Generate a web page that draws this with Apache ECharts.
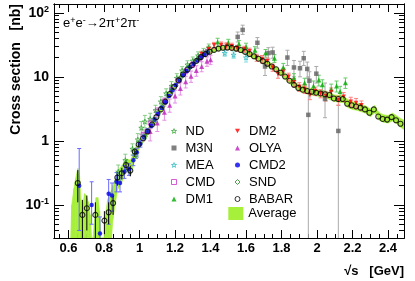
<!DOCTYPE html>
<html><head><meta charset="utf-8">
<script src="https://cdn.jsdelivr.net/npm/echarts@6/dist/echarts.min.js"></script>
<style>html,body{margin:0;padding:0;background:#fff;}#c{width:415px;height:281px;}</style>
</head><body><div id="c"></div>
<script>
// ---------------- data ----------------
const xMajorTicks = [0.6, 0.8, 1, 1.2, 1.4, 1.6, 1.8, 2, 2.2, 2.4];
const yMajorTicks = [0.1, 1, 10, 100];
// rows: [E (GeV), sigma (nb), low, high]
const babar = [
  [0.652,0.22,0.11,0.35],[0.678,0.07,0.03,0.12],[0.703,0.089,0.04,0.14],[0.751,0.07,0.03,0.11],
  [0.802,0.057,0.035,0.08],[0.826,0.077,0.05,0.11],[0.851,0.107,0.07,0.14],[0.875,0.268,0.2,0.33],
  [0.9,0.313,0.25,0.38],[0.924,0.42,0.35,0.5],[0.948,0.344,0.28,0.41],[0.973,0.68,0.56,0.72],
  [0.995,0.88,0.8,0.95],[1.02,1.1],[1.045,1.4],[1.07,1.8],[1.095,2.35],[1.12,3.1],[1.145,4.1],
  [1.17,5.4],[1.195,7.0],[1.22,8.8],[1.245,10.9],[1.27,13.0],[1.295,15.2],[1.32,17.7],[1.345,20.3],
  [1.37,22.6],[1.395,24.6],[1.42,26.3],[1.445,27.6],[1.47,28.4],[1.495,28.6],[1.52,28.3],[1.545,27.6],
  [1.57,26.2],[1.595,24.5],[1.62,22.7],[1.645,20.9],[1.67,19.2],[1.695,17.6],[1.72,16.0],[1.745,14.5],
  [1.77,13.1],[1.795,11.6],[1.82,10.1],[1.845,8.7],[1.87,7.5],[1.895,6.7],[1.92,6.3],[1.945,6.0],
  [1.97,5.85],[1.995,5.65],[2.02,5.5],[2.045,5.35],[2.07,5.2],[2.095,4.6],[2.12,4.5],[2.145,4.5],
  [2.17,3.8],[2.195,3.6],[2.22,3.45],[2.245,3.3],[2.27,3.1],[2.295,2.75],[2.32,3.1],[2.345,2.4],
  [2.37,2.2],[2.395,2.15],[2.42,2.35],[2.445,2.1],[2.47,1.85]
];
const nd = [
  [0.88,0.33,0.25,0.42],[0.92,0.5,0.4,0.62],[0.96,0.75,0.6,0.9],[0.99,1.05,0.85,1.3],[1.01,1.6,1.25,2.0],
  [1.03,2.0,1.6,2.5],[1.06,2.2,1.8,2.7],[1.09,3.0,2.5,3.6],[1.12,4.1,3.4,4.9],[1.15,5.5,4.6,6.5],
  [1.18,7.2,6.1,8.4],[1.21,9.6,8.2,11.2],[1.24,12.5,10.8,14.4],[1.27,15.5,13.4,17.8],[1.30,17.8,15.4,20.4],
  [1.33,21.5,18.7,24.5],[1.36,24.5,21.5,27.8],[1.39,28.5,25,32.5]
];
const m3n = [
  [1.553,42,35,50],[1.581,54,46,64],[1.664,34,28,41],[1.707,14.5,10.5,19],[1.726,23.5,19,28.5],
  [1.75,24,19.5,29],[1.833,20,15,26],[1.87,14,10,18],[1.904,13.6,10,17.5],[1.925,19.5,15,25],
  [1.945,13.3,9.5,17],[1.951,2.55,0.01,10],[1.957,8.7,5.5,12],[1.996,11.2,8,14.5],[2.045,4.5,2.3,8],
  [2.12,1.43,0.01,3.6]
];
const mea = [[1.48,23.5,21,26],[1.53,22,19.5,24.5],[1.60,20,17,23]];
const cmd = [
  [1.02,1.25,1.0,1.5],[1.06,1.9,1.6,2.2],[1.10,2.9,2.5,3.3],[1.14,4.2,3.7,4.7],[1.18,6.3,5.6,7.0],
  [1.22,8.9,8.0,9.8],[1.26,12.2,11,13.4],[1.30,15.6,14,17.2],[1.34,19.5,17.5,21.5],[1.38,24.5,22,27]
];
const dm1 = [
  [1.44,35,30,40],[1.5,34,29.5,38.5],[1.56,32.5,28,37],[1.60,29.5,25.5,33.5],[1.65,26,22.5,29.5],
  [1.71,23.5,20.3,26.7],[1.76,19.5,16.8,22.2],[1.81,14,11.8,16.2],[1.87,9.5,7.8,11.2],[1.93,8.0,6.5,9.5],
  [1.98,7.2,5.8,8.6],[2.01,8.9,7.2,10.6],[2.03,7.5,6,9],[2.08,6.4,5.1,7.7],[2.11,7.2,5.8,8.6],
  [2.13,5.9,4.7,7.1],[2.16,8.1,6.6,9.6]
];
const dm2 = [
  [1.35,22.5,20,25],[1.39,27,24,30],[1.42,31,27.5,34.5],[1.46,31.5,28,35],[1.49,30.5,27,34],
  [1.52,30,26.5,33.5],[1.55,28,25,31],[1.59,27,24,30],[1.62,25,22,28],[1.66,20,17.5,22.5],
  [1.69,19,16.5,21.5],[1.72,17.5,15.3,19.7],[1.75,14,12.2,15.8],[1.78,11,9.5,12.5],[1.81,12,10.4,13.6],
  [1.84,10,8.6,11.4],[1.87,8.2,7,9.4],[1.90,7,5.9,8.1],[1.93,6.5,5.5,7.5],[1.96,5.2,4.4,6],
  [1.99,6,5.1,6.9],[2.02,5.5,4.7,6.3],[2.05,5.0,4.2,5.8],[2.08,5.8,4.9,6.7],[2.12,4.3,3.6,5],
  [2.15,4.9,4.1,5.7],[2.19,4.1,3.4,4.8],[2.22,3.9,3.2,4.6],[2.25,3.6,3.0,4.2]
];
const olya = [
  [1.06,1.4,1.0,1.8],[1.10,1.9,1.4,2.4],[1.14,2.8,2.1,3.5],[1.17,3.6,2.8,4.5],[1.20,5.0,3.9,6.2],
  [1.23,6.6,5.2,8.1],[1.26,8.4,6.7,10.2],[1.29,10.2,8.2,12.3],[1.32,12.5,10.2,14.9],[1.35,14.5,12,17.2],
  [1.38,17.5,14.6,20.5],[1.40,18.5,15.5,21.7]
];
const cmd2 = [
  [0.66,0.2,0.04,0.76],[0.73,0.1,0.05,0.23],[0.777,0.036,0.015,0.065],[0.826,0.15,0.05,0.25],
  [0.845,0.14,0.08,0.22],[0.87,0.23,0.16,0.32],[0.89,0.22,0.16,0.29],[0.915,0.33,0.26,0.41],
  [0.94,0.36,0.29,0.44],[0.965,0.5,0.41,0.6],[0.985,0.66,0.56,0.77],[1.005,0.9,0.8,1.01],
  [1.025,1.15,1.04,1.27],[1.045,1.42,1.3,1.55],[1.065,1.72,1.6,1.85],[1.085,2.15,2.0,2.3],
  [1.105,2.65,2.5,2.8],[1.125,3.3,3.1,3.5],[1.145,4.0,3.8,4.25],[1.165,5.0,4.75,5.3],[1.185,6.2,5.9,6.5],
  [1.205,7.4,7.05,7.8],[1.225,8.9,8.5,9.3],[1.245,10.6,10.1,11.1],[1.265,12.3,11.7,12.9],
  [1.285,14.2,13.5,14.9],[1.305,16.0,15.2,16.8],[1.325,18.0,17.1,18.9],[1.345,20.0,19,21],
  [1.365,22.2,21.1,23.3],[1.385,24.0,22.8,25.2]
];
const snd = [
  [0.98,0.6,0.53,0.67],[1.03,1.18,1.08,1.28],[1.08,1.95,1.8,2.1],[1.13,3.4,3.15,3.65],[1.18,6.0,5.6,6.4],
  [1.23,9.6,9.0,10.2],[1.28,14.2,13.3,15.1],[1.33,19.2,18,20.4],[1.38,24.5,23,26]
];
// average band: energies, lower and upper edges
const avgE  = [0.612,0.618,0.63,0.64,0.652,0.662,0.67,0.675,0.68,0.69,0.70,0.712,0.722,0.73,0.738,0.745,0.755,0.765,0.775,0.782,0.80,0.808,0.82,0.832,0.842,
  0.85,0.875,0.9,0.925,0.95,0.975,1.0,1.05,1.1,1.15,1.2,1.25,1.3,1.35,1.4,1.45,1.5,1.55,1.6,1.65,1.7,1.75,1.8,1.85,1.9,1.95,2.0,2.05,
  2.1,2.125,2.15,2.175,2.2,2.225,2.25,2.275,2.3,2.325,2.35,2.375,2.4,2.425,2.45,2.475,2.49];
const avgHi = [0.01,0.1,0.18,0.26,0.37,0.28,0.12,0.06,0.1,0.15,0.14,0.11,0.07,0.03,0.01,0.05,0.13,0.13,0.08,0.01,0.01,0.07,0.12,0.15,0.17,
  0.2,0.33,0.41,0.52,0.5,0.77,1.02,1.62,2.75,4.9,8.2,12.4,17.1,22.6,27.2,30.0,30.5,29.2,26.0,22.4,18.7,15.7,12.4,9.4,7.4,6.7,6.3,6.0,
  5.2,5.15,5.1,4.35,4.1,3.9,3.7,3.5,3.15,3.55,2.75,2.55,2.5,2.7,2.45,2.2,2.1];
const avgLo = [0.01,0.01,0.01,0.01,0.01,0.01,0.01,0.01,0.01,0.01,0.01,0.01,0.01,0.01,0.01,0.01,0.01,0.01,0.01,0.01,0.01,0.01,0.01,0.01,0.01,
  0.06,0.17,0.23,0.33,0.29,0.54,0.76,1.28,2.15,3.85,6.8,10.5,14.6,19.4,23.4,26.2,26.8,25.4,22.3,18.8,15.8,13.1,10.3,7.7,5.9,5.3,5.0,4.7,
  4.1,4.0,3.95,3.3,3.1,3.0,2.85,2.7,2.4,2.75,2.1,1.95,1.9,2.05,1.85,1.6,1.5];

// ---------------- chart ----------------
const X_MIN = 0.518, X_MAX = 2.49, Y_MIN = 0.0305, Y_MAX = 137;
const FONT = '"Liberation Sans", Arial, Helvetica, sans-serif';
const AVG = '#a6ef3a';
const STAR = 'path://M50,0 L61,35 L98,35 L68,57 L79,91 L50,70 L21,91 L32,57 L2,35 L39,35 Z';
const DTRI = 'path://M0,0 L10,0 L5,9 Z';

const xMinor = []; for (let v = 0.55; v < X_MAX; v += 0.05) xMinor.push(+v.toFixed(2));
const yMinor = []; [0.01, 0.1, 1, 10].forEach(d => { for (let k = 2; k <= 9; k++) { const v = +(k * d).toPrecision(3); if (v > Y_MIN && v < Y_MAX) yMinor.push(v); } });

function mkX(pos, ticks, len, label) {
  return { type: 'value', position: pos, min: X_MIN, max: X_MAX, gridIndex: 0,
    axisLine: { show: true, onZero: false, lineStyle: { color: '#000', width: 1 } },
    axisTick: { show: true, inside: true, length: len, customValues: ticks, lineStyle: { color: '#000', width: 1 } },
    axisLabel: { show: label, customValues: xMajorTicks, margin: 4, color: '#000', fontFamily: FONT, fontWeight: 'bold', fontSize: 13,
      formatter: v => Math.abs(v - Math.round(v)) < 1e-9 ? String(Math.round(v)) : v.toFixed(1) },
    splitLine: { show: false } };
}
function mkY(pos, ticks, len, label) {
  return { type: 'log', logBase: 10, position: pos, min: Y_MIN, max: Y_MAX, gridIndex: 0,
    axisLine: { show: true, onZero: false, lineStyle: { color: '#000', width: 1 } },
    axisTick: { show: true, inside: true, length: len, customValues: ticks, lineStyle: { color: '#000', width: 1 } },
    axisLabel: { show: label, customValues: yMajorTicks, margin: 5, color: '#000',
      formatter: v => {
        if (Math.abs(v - 100) < 1e-6) return '{n|10}{s|2}';
        if (Math.abs(v - 10) < 1e-6) return '{n|10}';
        if (Math.abs(v - 1) < 1e-6) return '{n|1}';
        return '{n|10}{s|-1}';
      },
      rich: { n: { fontFamily: FONT, fontWeight: 'bold', fontSize: 14, color: '#000' },
              s: { fontFamily: FONT, fontWeight: 'bold', fontSize: 9, color: '#000', verticalAlign: 'top', padding: [0, 0, 6, 0] } } },
    splitLine: { show: false } };
}

function errRender(color, cap) {
  return function (params, api) {
    const lo = api.value(2), hi = api.value(3);
    if (!(lo > 0) || !(hi > 0)) return null;
    const x = api.value(0);
    const cl = v => Math.min(Math.max(v, Y_MIN), Y_MAX);
    const p1 = api.coord([x, cl(lo)]), p2 = api.coord([x, cl(hi)]);
    const st = { stroke: color, lineWidth: 1 };
    const ch = [{ type: 'line', shape: { x1: p1[0], y1: p1[1], x2: p2[0], y2: p2[1] }, style: st }];
    if (cap) {
      if (lo > Y_MIN) ch.push({ type: 'line', shape: { x1: p1[0] - cap, y1: p1[1], x2: p1[0] + cap, y2: p1[1] }, style: st });
      if (hi < Y_MAX) ch.push({ type: 'line', shape: { x1: p2[0] - cap, y1: p2[1], x2: p2[0] + cap, y2: p2[1] }, style: st });
    }
    return { type: 'group', children: ch };
  };
}
function errSeries(data, color, cap) {
  return { type: 'custom', data: data, renderItem: errRender(color, cap), encode: { x: 0, y: 1 }, silent: true, z: 3, clip: true };
}
function scat(name, data, symbol, size, color, open) {
  return { name: name, type: 'scatter', data: data, symbol: symbol, symbolSize: size, encode: { x: 0, y: 1 }, z: 4,
    itemStyle: open ? { color: 'rgba(255,255,255,0)', borderColor: color, borderWidth: 1 } : { color: color } };
}

const avgRows = avgE.map((e, i) => [e, avgLo[i], avgHi[i]]);
function bandRender(params, api) {
  const i = params.dataIndexInside;
  if (i >= params.dataInsideLength - 1) return null;
  const cl = v => Math.min(Math.max(v, Y_MIN), Y_MAX);
  const x0 = api.value(0, i), l0 = api.value(1, i), h0 = api.value(2, i);
  const x1 = api.value(0, i + 1), l1 = api.value(1, i + 1), h1 = api.value(2, i + 1);
  const pts = [api.coord([x0, cl(h0)]), api.coord([x1, cl(h1)]), api.coord([x1, cl(l1)]), api.coord([x0, cl(l0)])];
  return { type: 'polygon', shape: { points: pts }, style: { fill: AVG, stroke: AVG, lineWidth: 0.6 } };
}

const legText = { fontSize: 13, fontFamily: FONT, color: '#000', lineHeight: 14, padding: [0, 0, 0, 4] };
const openIcon = c => ({ color: 'rgba(255,255,255,0)', borderColor: c, borderWidth: 1 });
const filledIcon = c => ({ color: c, borderWidth: 0 });
const option = {
  animation: false,
  backgroundColor: '#fff',
  grid: { left: 54, right: 11, top: 4, bottom: 43, containLabel: false },
  xAxis: [ mkX('bottom', xMajorTicks, 8, true), mkX('bottom', xMinor, 4, false), mkX('top', xMajorTicks, 8, false), mkX('top', xMinor, 4, false) ],
  yAxis: [ mkY('left', yMajorTicks, 10, true), mkY('left', yMinor, 5, false), mkY('right', yMajorTicks, 10, false), mkY('right', yMinor, 5, false) ],
  legend: [
    { orient: 'vertical', left: 171, top: 124, padding: 0, itemWidth: 5, itemHeight: 5, itemGap: 3, selectedMode: false, textStyle: legText,
      data: [{ name: 'ND', icon: STAR, itemStyle: openIcon('#3aa83a') }, { name: 'M3N', icon: 'rect', itemStyle: filledIcon('#606060') },
             { name: 'MEA', icon: STAR, itemStyle: openIcon('#2ab8c0') }, { name: 'CMD', icon: 'rect', itemStyle: openIcon('#cc33cc') },
             { name: 'DM1', icon: 'triangle', itemStyle: filledIcon('#00aa00') }] },
    { orient: 'vertical', left: 234.5, top: 124, padding: 0, itemWidth: 5, itemHeight: 5, itemGap: 3, selectedMode: false, textStyle: legText,
      data: [{ name: 'DM2', icon: DTRI, itemStyle: filledIcon('#ff0000') }, { name: 'OLYA', icon: 'triangle', itemStyle: filledIcon('#bb22bb') },
             { name: 'CMD2', icon: 'circle', itemStyle: filledIcon('#0000ee') }, { name: 'SND', icon: 'diamond', itemStyle: openIcon('#228822') },
             { name: 'BABAR', icon: 'circle', itemStyle: openIcon('#000000') }] },
    { orient: 'vertical', left: 228.3, top: 207, padding: 0, itemWidth: 15, itemHeight: 13, selectedMode: false, textStyle: { fontSize: 13, fontFamily: FONT, color: '#000' },
      data: [{ name: 'Average', icon: 'rect', itemStyle: { color: AVG, borderWidth: 0 } }] }
  ],
  graphic: [
    { type: 'text', x: 16, y: 4, rotation: Math.PI / 2,
      style: { text: 'Cross section   [nb]', font: 'bold 14px ' + FONT, fill: '#000', align: 'right', verticalAlign: 'middle' } },
    { type: 'text', x: 404, y: 271,
      style: { text: '√s   [GeV]', font: 'bold 13px ' + FONT, fill: '#000', align: 'right', verticalAlign: 'middle' } },
    { type: 'text', x: 63, y: 23,
      style: { text: '{n|e}{s|+}{n|e}{s|-}{n|→2π}{s|+}{n|2π}{s|-}', verticalAlign: 'middle', align: 'left',
        rich: { n: { fontFamily: FONT, fontSize: 13, fill: '#000' }, s: { fontFamily: FONT, fontSize: 9, fill: '#000', verticalAlign: 'top', padding: [0, 0, 5, 0] } } } }
  ],
  series: [
    { name: 'Average', type: 'custom', data: avgRows, renderItem: bandRender, encode: { x: 0, y: 1 }, itemStyle: { color: AVG }, z: 1, clip: true, silent: true },
    errSeries(m3n, '#aaaaaa', 2), errSeries(nd, '#88cc88', 2), errSeries(mea, '#88dddd', 2), errSeries(cmd, '#e39be3', 2),
    errSeries(dm1, '#66cc66', 2), errSeries(dm2, '#ff8080', 2), errSeries(olya, '#e68ee6', 2), errSeries(cmd2, '#6a6aff', 2),
    errSeries(snd, '#66aa66', 2), errSeries(babar, '#000000', 0),
    scat('ND', nd, STAR, 5, '#3aa83a', true),
    scat('M3N', m3n, 'rect', 4.5, '#606060', false),
    scat('MEA', mea, STAR, 5, '#2ab8c0', true),
    scat('CMD', cmd, 'rect', 4, '#cc33cc', true),
    scat('DM1', dm1, 'triangle', 5, '#00aa00', false),
    scat('DM2', dm2, DTRI, 4.5, '#ff0000', false),
    scat('OLYA', olya, 'triangle', 5, '#bb22bb', false),
    scat('CMD2', cmd2, 'circle', 4.5, '#0000ee', false),
    scat('SND', snd, 'diamond', 4.5, '#228822', true),
    Object.assign(scat('BABAR', babar, 'circle', 5, '#000000', true), { z: 5, itemStyle: { color: 'rgba(255,255,255,0)', borderColor: '#000', borderWidth: 1.1 } })
  ]
};
const chart = echarts.init(document.getElementById('c'), null, { renderer: 'canvas' });
chart.setOption(option);
</script>
</body></html>
